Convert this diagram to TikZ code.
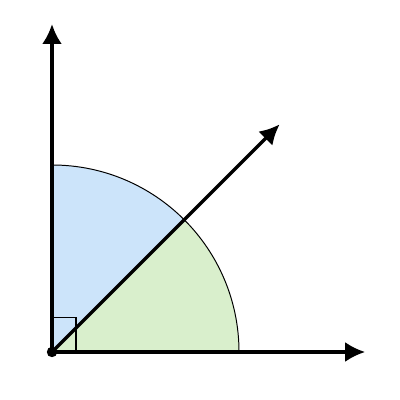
\documentclass[tikz,border=0pt]{standalone}
\usetikzlibrary{arrows.meta}
\definecolor{azulclaro}{RGB}{204,228,250}
\definecolor{verdeclaro}{RGB}{217,239,204}
\tikzset{
  eje/.style={line width=2.5pt, -{Latex[length=5mm,width=5mm]}},
}
\begin{document}
\begin{tikzpicture}[scale=1]
  \useasboundingbox (-1.3,-1.2) rectangle (8.7,8.8);
  % Puntos principales
  \coordinate (O) at (0,0);
  \coordinate (X) at (7.83,0);
  \coordinate (Y) at (0,8.2);
  \coordinate (D) at (45:8.05);

  % Sectores
  \fill[verdeclaro] (O) -- (4.675,0) arc[start angle=0,end angle=45,radius=4.675] -- cycle;
  \fill[azulclaro] (O) -- (45:4.675) arc[start angle=45,end angle=90,radius=4.675] -- cycle;
  \draw[line width=0.7pt] (4.675,0) arc[start angle=0,end angle=90,radius=4.675];

  % Angulo recto
  \draw[line width=0.8pt] (0,0.86) -- (0.6,0.86) -- (0.6,0);

  % Ejes y semirrecta
  \draw[eje] (O) -- (X);
  \draw[eje] (O) -- (Y);
  \draw[eje] (O) -- (D);

  % Origen
  \fill (O) circle (0.13);
\end{tikzpicture}
\end{document}
